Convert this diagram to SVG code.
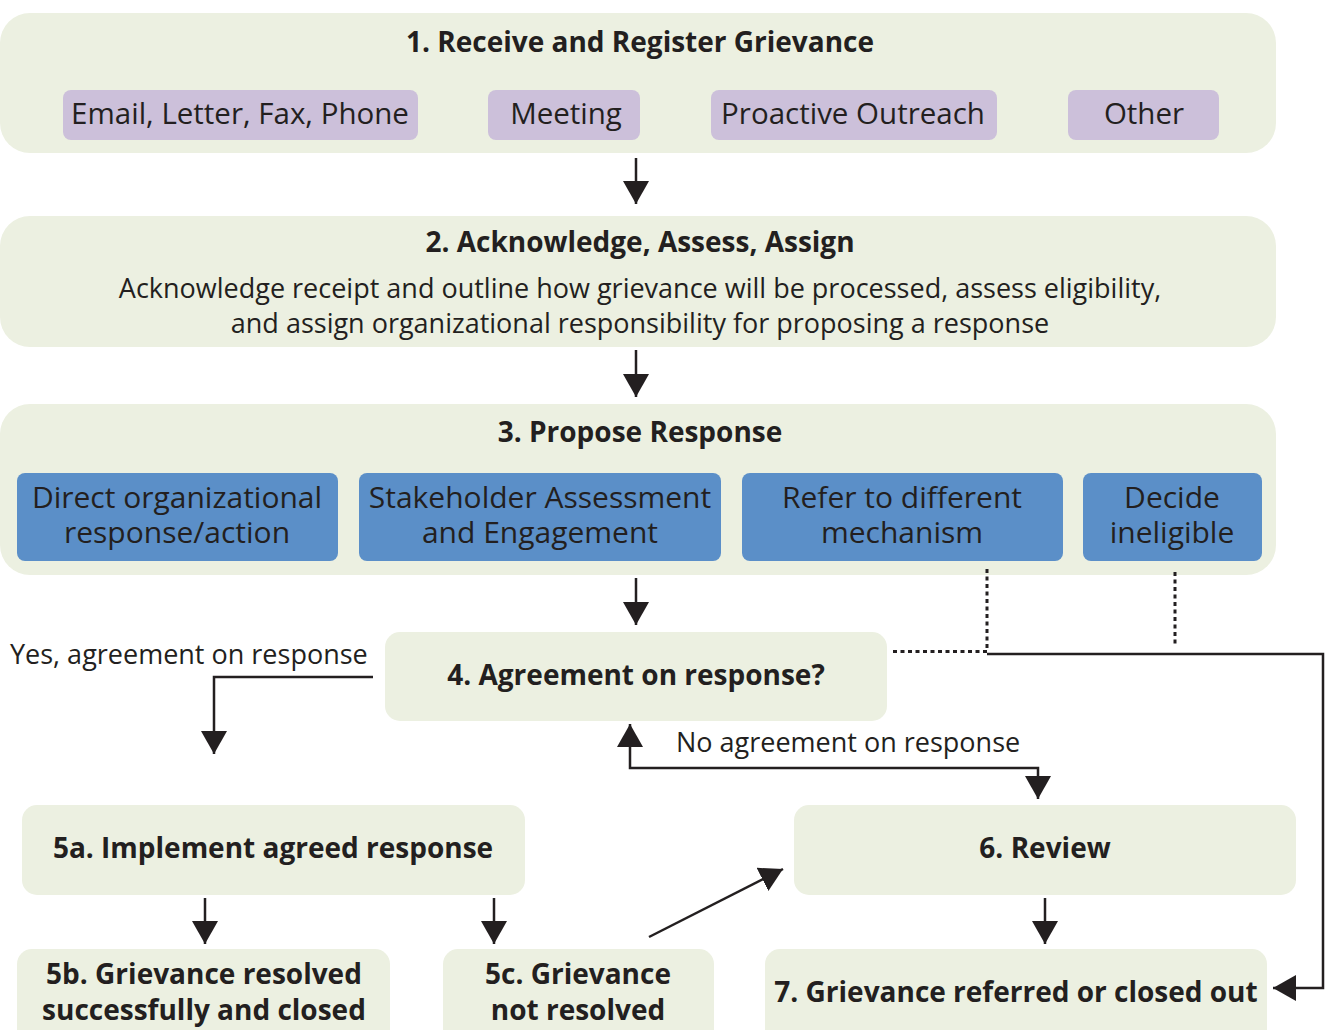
<svg xmlns="http://www.w3.org/2000/svg" width="1327" height="1030" viewBox="0 0 1327 1030">
<style>
.stage{fill:#ECF0E1}
.pill{fill:#CCC0DA}
.opt{fill:#5B8FC8}
text{font-family:"Open Sans","Noto Sans","Liberation Sans",sans-serif;fill:#231F20;font-size:27px}
.b{font-weight:bold;text-anchor:middle;font-size:28px}
.r{text-anchor:middle}
.l{text-anchor:start}
.big{font-size:30px}
.pt{font-size:29.5px}
.ln{fill:none;stroke:#231F20;stroke-width:2.5}
.dot{fill:none;stroke:#231F20;stroke-width:3;stroke-dasharray:4 3.5}
</style>
<defs>
<marker id="ah" viewBox="0 0 23 26" refX="23" refY="13" markerWidth="23" markerHeight="26" markerUnits="userSpaceOnUse" orient="auto-start-reverse">
<path d="M0,0 L23,13 L0,26 Z" fill="#231F20"/>
</marker>
</defs>
<rect width="1327" height="1030" fill="#ffffff"/>

<g id="n1">
<rect class="stage" x="0" y="13" width="1276" height="140" rx="30"/>
<text class="b" x="640" y="52">1. Receive and Register Grievance</text>
<rect class="pill" x="63" y="90" width="355" height="50" rx="8"/>
<text class="r pt" x="240" y="124">Email, Letter, Fax, Phone</text>
<rect class="pill" x="488" y="90" width="152" height="50" rx="8"/>
<text class="r pt" x="566" y="124">Meeting</text>
<rect class="pill" x="711" y="90" width="286" height="50" rx="8"/>
<text class="r pt" x="853" y="124">Proactive Outreach</text>
<rect class="pill" x="1068" y="90" width="151" height="50" rx="8"/>
<text class="r pt" x="1144" y="124">Other</text>
</g>

<g id="n2">
<rect class="stage" x="0" y="216" width="1276" height="131" rx="30"/>
<text class="b" x="640" y="252">2. Acknowledge, Assess, Assign</text>
<text class="r" x="640" y="298">Acknowledge receipt and outline how grievance will be processed, assess eligibility,<tspan x="640" dy="35">and assign organizational responsibility for proposing a response</tspan></text>
</g>

<g id="n3">
<rect class="stage" x="0" y="404" width="1276" height="171" rx="30"/>
<text class="b" x="640" y="442">3. Propose Response</text>
<rect class="opt" x="17" y="473" width="321" height="88" rx="8"/>
<text class="r big" x="177" y="508">Direct organizational<tspan x="177" dy="35">response/action</tspan></text>
<rect class="opt" x="359" y="473" width="362" height="88" rx="8"/>
<text class="r big" x="540" y="508">Stakeholder Assessment<tspan x="540" dy="35">and Engagement</tspan></text>
<rect class="opt" x="742" y="473" width="321" height="88" rx="8"/>
<text class="r big" x="902" y="508">Refer to different<tspan x="902" dy="35">mechanism</tspan></text>
<rect class="opt" x="1083" y="473" width="179" height="88" rx="8"/>
<text class="r big" x="1172" y="508">Decide<tspan x="1172" dy="35">ineligible</tspan></text>
</g>

<g id="n4">
<rect class="stage" x="385" y="632" width="502" height="89" rx="15"/>
<text class="b" x="636" y="685">4. Agreement on response?</text>
</g>

<g id="n5a">
<rect class="stage" x="22" y="805" width="503" height="90" rx="15"/>
<text class="b" x="273" y="858">5a. Implement agreed response</text>
</g>

<g id="n6">
<rect class="stage" x="794" y="805" width="502" height="90" rx="15"/>
<text class="b" x="1045" y="858">6. Review</text>
</g>

<g id="n5b">
<rect class="stage" x="17" y="949" width="373" height="100" rx="15"/>
<text class="b" x="204" y="984">5b. Grievance resolved<tspan x="204" dy="36">successfully and closed</tspan></text>
</g>

<g id="n5c">
<rect class="stage" x="443" y="949" width="271" height="100" rx="15"/>
<text class="b" x="578" y="984">5c. Grievance<tspan x="578" dy="36">not resolved</tspan></text>
</g>

<g id="n7">
<rect class="stage" x="765" y="949" width="502" height="100" rx="15"/>
<text class="b" x="1016" y="1002">7. Grievance referred or closed out</text>
</g>

<g id="labels">
<text class="l" x="10" y="664">Yes, agreement on response</text>
<text class="l" x="676" y="752">No agreement on response</text>
</g>

<g id="connectors">
<path class="ln" d="M636,158 V204" marker-end="url(#ah)"/>
<path class="ln" d="M636,350 V397" marker-end="url(#ah)"/>
<path class="ln" d="M636,578 V625" marker-end="url(#ah)"/>
<path class="ln" d="M373,677 H214 V754" marker-end="url(#ah)"/>
<path class="ln" d="M630,724 V768 H1038 V799" marker-start="url(#ah)" marker-end="url(#ah)"/>
<path class="ln" d="M205,898 V944" marker-end="url(#ah)"/>
<path class="ln" d="M494,898 V944" marker-end="url(#ah)"/>
<path class="ln" d="M1045,898 V944" marker-end="url(#ah)"/>
<path class="ln" d="M649,937 L783,869" marker-end="url(#ah)"/>
<path class="dot" d="M893,651.5 H987 V567"/>
<path class="dot" d="M1175,572 V647"/>
<path class="ln" d="M987,654 H1323 V988 H1273" marker-end="url(#ah)"/>
</g>
</svg>
